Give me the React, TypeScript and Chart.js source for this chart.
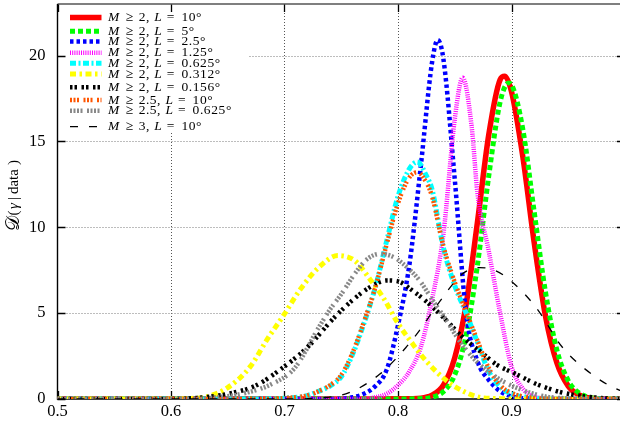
import { useEffect, useRef } from 'react';
import { Chart, registerables } from 'chart.js';

Chart.register(...registerables);

type Pt = [number, number];

// Tick values
const xTickValues = [0.5, 0.6, 0.7, 0.8, 0.9, 1.0];
const yTickValues = [0, 5, 10, 15, 20];

// Legend parameters (M threshold, L value)
const seriesM = ['2', '2', '2', '2', '2', '2', '2', '2.5', '2.5', '3'];
const seriesL = ['10°', '5°', '2.5°', '1.25°', '0.625°', '0.312°', '0.156°', '10°', '0.625°', '10°'];

// Series values: [gamma, density]
const m2L10: Pt[] = [
  [0.5, 0], [0.78, 0], [0.80, 0.01], [0.82, 0.05], [0.83, 0.22], [0.84, 0.8], [0.85, 2.4], [0.86, 5.5],
  [0.87, 10.3], [0.88, 15.4], [0.89, 18.6], [0.894, 18.8], [0.90, 17.9], [0.91, 14.1], [0.92, 9.1],
  [0.93, 4.8], [0.94, 2.1], [0.95, 0.75], [0.96, 0.22], [0.97, 0.05], [0.98, 0], [1.0, 0],
];
const m2L5: Pt[] = [
  [0.5, 0], [0.80, 0], [0.82, 0.02], [0.83, 0.1], [0.84, 0.43], [0.85, 1.4], [0.86, 3.7], [0.87, 7.8],
  [0.88, 13.0], [0.89, 17.3], [0.8975, 18.4], [0.90, 18.3], [0.91, 15.7], [0.92, 10.9], [0.93, 6.2],
  [0.94, 2.85], [0.95, 1.07], [0.96, 0.33], [0.97, 0.08], [0.98, 0.02], [1.0, 0],
];
const m2L2_5: Pt[] = [
  [0.5, 0], [0.74, 0], [0.76, 0.1], [0.77, 0.3], [0.78, 0.75], [0.79, 1.7], [0.80, 4.3], [0.81, 7.8],
  [0.82, 13.5], [0.83, 19.6], [0.835, 20.9], [0.84, 19.8], [0.85, 12.8], [0.86, 5.0], [0.87, 2.2],
  [0.88, 1.1], [0.89, 0.45], [0.90, 0.15], [0.92, 0.02], [0.94, 0], [1.0, 0],
];
const m2L1_25: Pt[] = [
  [0.5, 0], [0.77, 0], [0.78, 0.1], [0.79, 0.3], [0.80, 0.8], [0.81, 1.6], [0.82, 3.0], [0.83, 5.8],
  [0.84, 9.6], [0.85, 16.3], [0.857, 18.7], [0.865, 15.8], [0.87, 12.0], [0.88, 8.6], [0.89, 5.0],
  [0.90, 1.9], [0.91, 0.6], [0.92, 0.15], [0.93, 0.03], [0.95, 0], [1.0, 0],
];
const m2L0_625: Pt[] = [
  [0.5, 0], [0.68, 0], [0.70, 0.05], [0.72, 0.2], [0.73, 0.45], [0.74, 0.75], [0.75, 1.3], [0.76, 2.6],
  [0.77, 4.4], [0.78, 6.5], [0.79, 9.2], [0.80, 11.8], [0.81, 13.4], [0.817, 13.8], [0.825, 13.0],
  [0.83, 12.2], [0.84, 8.8], [0.85, 6.6], [0.86, 5.0], [0.87, 3.3], [0.88, 1.6], [0.89, 0.7],
  [0.90, 0.3], [0.92, 0.05], [0.94, 0], [1.0, 0],
];
const m2L0_312: Pt[] = [
  [0.5, 0], [0.60, 0], [0.62, 0.04], [0.63, 0.1], [0.65, 0.66], [0.67, 1.9], [0.685, 3.5], [0.70, 4.95],
  [0.713, 6.3], [0.73, 7.65], [0.747, 8.35], [0.762, 8.05], [0.775, 7.0], [0.787, 5.9], [0.80, 4.4],
  [0.813, 3.2], [0.825, 2.2], [0.843, 1.05], [0.857, 0.47], [0.872, 0.1], [0.89, 0.02], [0.91, 0], [1.0, 0],
];
const m2L0_156: Pt[] = [
  [0.5, 0], [0.60, 0], [0.62, 0.05], [0.63, 0.1], [0.65, 0.3], [0.674, 0.76], [0.697, 1.75], [0.72, 3.0],
  [0.744, 4.75], [0.759, 5.7], [0.775, 6.5], [0.79, 6.9], [0.80, 6.85], [0.813, 6.3], [0.828, 5.5],
  [0.843, 4.55], [0.857, 3.6], [0.872, 2.8], [0.887, 2.0], [0.904, 1.45], [0.922, 0.87], [0.945, 0.37],
  [0.975, 0.08], [1.0, 0],
];
const m2_5L10: Pt[] = [
  [0.5, 0], [0.68, 0], [0.70, 0.05], [0.72, 0.2], [0.73, 0.45], [0.74, 0.8], [0.75, 1.4], [0.76, 2.7],
  [0.77, 4.5], [0.78, 6.5], [0.79, 9.0], [0.80, 11.4], [0.81, 12.9], [0.817, 13.2], [0.825, 12.6],
  [0.83, 11.8], [0.84, 8.9], [0.85, 6.8], [0.86, 5.1], [0.87, 3.4], [0.88, 1.8], [0.89, 0.8],
  [0.90, 0.35], [0.92, 0.06], [0.94, 0], [1.0, 0],
];
const m2_5L0_625: Pt[] = [
  [0.5, 0], [0.62, 0], [0.64, 0.1], [0.662, 0.3], [0.688, 0.85], [0.709, 1.8], [0.73, 4.15], [0.74, 5.2],
  [0.75, 6.1], [0.762, 7.3], [0.772, 8.1], [0.784, 8.45], [0.795, 8.3], [0.804, 7.9], [0.819, 6.9],
  [0.831, 5.7], [0.843, 4.55], [0.854, 3.4], [0.869, 2.2], [0.887, 1.25], [0.904, 0.66], [0.928, 0.17],
  [0.95, 0.03], [0.97, 0], [1.0, 0],
];
const m3L10: Pt[] = [
  [0.5, 0], [0.70, 0], [0.73, 0.05], [0.757, 0.37], [0.784, 1.45], [0.807, 3.0], [0.819, 4.0],
  [0.837, 5.7], [0.857, 7.3], [0.872, 7.65], [0.885, 7.5], [0.899, 6.9], [0.922, 5.3], [0.945, 3.0],
  [0.975, 1.24], [0.993, 0.57], [1.0, 0.4],
];

const seriesData = [m2L10, m2L5, m2L2_5, m2L1_25, m2L0_625, m2L0_312, m2L0_156, m2_5L10, m2_5L0_625, m3L10];

// Styles (kept apart from data)
const seriesStyles = [
  { color: '#ff0000', width: 5.5, dash: [] as number[] },
  { color: '#00ff00', width: 5, dash: [5, 3] },
  { color: '#0000ff', width: 4.5, dash: [3.5, 3] },
  { color: '#ff00ff', width: 4.5, dash: [1, 1.2] },
  { color: '#00ffff', width: 5, dash: [6, 2.5, 2, 2.5] },
  { color: '#ffff00', width: 5, dash: [6, 3.5, 2.5, 3.5] },
  { color: '#000000', width: 4.5, dash: [2.5, 2, 2.5, 4.5] },
  { color: '#ff5500', width: 4.5, dash: [2, 1.5, 2, 1.5, 2, 4.5] },
  { color: '#888888', width: 4.5, dash: [2, 1.5, 2, 1.5, 2, 1.5, 2, 4.5] },
  { color: '#000000', width: 1.3, dash: [8, 11] },
];
const legendRows = [17.5, 31.3, 41.5, 52.7, 63.3, 74, 87.3, 100, 110.7, 126.7];

const SERIF = '"Liberation Serif", "DejaVu Serif", serif';

type Tok = { t: string; it?: boolean; gap: number; ls?: number; font?: string };

function drawTokens(ctx: CanvasRenderingContext2D, x: number, y: number, toks: Tok[], size: number) {
  let cx = x;
  for (const tk of toks) {
    ctx.font = tk.font ? tk.font : `${tk.it ? 'italic ' : ''}${size}px ${SERIF}`;
    (ctx as any).letterSpacing = `${tk.ls || 0}px`;
    ctx.fillText(tk.t, cx, y);
    cx += ctx.measureText(tk.t).width + tk.gap;
  }
  (ctx as any).letterSpacing = '0px';
}

const decorPlugin = {
  id: 'decor',
  beforeDatasetsDraw(chart: any) {
    const { ctx, chartArea: a, scales } = chart;
    const xs = scales.x;
    const ys = scales.y;
    ctx.save();
    // dotted grid
    ctx.lineWidth = 1;
    ctx.setLineDash([1, 2]);
    ctx.strokeStyle = '#555';
    ctx.beginPath();
    for (const v of xTickValues.slice(1, -1)) {
      const px = Math.round(xs.getPixelForValue(v)) + 0.5;
      ctx.moveTo(px, a.top);
      ctx.lineTo(px, a.bottom);
    }
    ctx.stroke();
    ctx.strokeStyle = '#7a7a7a';
    ctx.beginPath();
    for (const v of yTickValues.slice(1)) {
      const py = Math.round(ys.getPixelForValue(v)) + 0.5;
      ctx.moveTo(a.left, py);
      ctx.lineTo(a.right, py);
    }
    ctx.stroke();
    ctx.setLineDash([]);
    // legend background
    ctx.fillStyle = '#ffffff';
    ctx.fillRect(a.left + 1, a.top + 1, 190, 127);
    // inward ticks
    ctx.strokeStyle = '#000';
    ctx.lineWidth = 1.3;
    ctx.beginPath();
    for (const v of xTickValues) {
      const px = Math.round(xs.getPixelForValue(v)) + 0.5;
      ctx.moveTo(px, a.top);
      ctx.lineTo(px, a.top + 8);
      ctx.moveTo(px, a.bottom);
      ctx.lineTo(px, a.bottom - 8);
    }
    for (const v of yTickValues) {
      const py = Math.round(ys.getPixelForValue(v)) + 0.5;
      ctx.moveTo(a.left, py);
      ctx.lineTo(a.left + 8, py);
      ctx.moveTo(a.right, py);
      ctx.lineTo(a.right - 8, py);
    }
    ctx.stroke();
    // frame
    ctx.strokeStyle = '#555';
    ctx.lineWidth = 1.6;
    ctx.beginPath();
    ctx.moveTo(a.left, a.top);
    ctx.lineTo(a.right, a.top);
    ctx.lineTo(a.right, a.bottom);
    ctx.stroke();
    ctx.strokeStyle = '#000';
    ctx.lineWidth = 1.4;
    ctx.beginPath();
    ctx.moveTo(a.left, a.top);
    ctx.lineTo(a.left, a.bottom);
    ctx.lineTo(a.right, a.bottom);
    ctx.stroke();
    ctx.restore();
  },
  afterDraw(chart: any) {
    const { ctx, chartArea: a } = chart;
    ctx.save();
    // legend
    const sx0 = a.left + 12.5;
    const sx1 = a.left + 44;
    const tx = a.left + 50.5;
    ctx.fillStyle = '#000';
    ctx.textBaseline = 'alphabetic';
    ctx.textAlign = 'left';
    seriesStyles.forEach((s, i) => {
      const y = legendRows[i];
      ctx.strokeStyle = s.color;
      ctx.lineWidth = s.width;
      ctx.lineCap = 'butt';
      ctx.setLineDash(s.dash);
      ctx.beginPath();
      ctx.moveTo(sx0, y);
      ctx.lineTo(sx1, y);
      ctx.stroke();
      ctx.setLineDash([]);
      drawTokens(ctx, tx, y + 3.5, [
        { t: 'M', it: true, gap: 6.5 },
        { t: '≥', gap: 5.5 },
        { t: seriesM[i] + ',', gap: 4.5, ls: 0.5 },
        { t: 'L', it: true, gap: 5 },
        { t: '=', gap: 7 },
        { t: seriesL[i], gap: 0, ls: 0.6 },
      ], 13.5);
    });
    // y axis title
    ctx.translate(14, 231);
    ctx.rotate(-Math.PI / 2);
    ctx.textBaseline = 'middle';
    drawTokens(ctx, 0, 0, [
      { t: '𝒟', gap: 0.5, font: `19px "DejaVu Sans", "DejaVu Serif", serif` },
      { t: '(', gap: 1.5 },
      { t: 'γ', it: true, gap: 3 },
      { t: '|', gap: 3 },
      { t: 'data', gap: 4 },
      { t: ')', gap: 0 },
    ], 15);
    ctx.restore();
  },
};

export default function App() {
  const ref = useRef<HTMLCanvasElement | null>(null);
  useEffect(() => {
    if (!ref.current) return;
    const chart = new Chart(ref.current, {
      type: 'line',
      data: {
        datasets: seriesData.map((pts, i) => ({
          label: `M ≥ ${seriesM[i]}, L = ${seriesL[i]}`,
          data: pts.map(([x, y]) => ({ x, y })),
          borderColor: seriesStyles[i].color,
          backgroundColor: seriesStyles[i].color,
          borderWidth: seriesStyles[i].width,
          borderDash: seriesStyles[i].dash,
          borderCapStyle: 'butt' as const,
          pointRadius: 0,
          fill: false,
          cubicInterpolationMode: 'monotone' as const,
          order: seriesData.length - i,
        })),
      },
      options: {
        animation: false,
        responsive: false,
        devicePixelRatio: 1,
        layout: { padding: { top: 4, right: 5, left: 0, bottom: 0 } },
        plugins: { legend: { display: false }, tooltip: { enabled: false } },
        scales: {
          x: {
            type: 'linear',
            min: 0.5,
            max: 1.0,
            grid: { display: false, drawTicks: false },
            border: { display: false },
            ticks: {
              stepSize: 0.1,
              includeBounds: false,
              padding: 3,
              color: '#000',
              font: { family: SERIF, size: 16.5 },
              callback: (v: any) => (Math.abs(v - 1) < 1e-9 ? '1' : Number(v).toFixed(1)),
            },
            afterFit: (s: any) => { s.height = 25; s.paddingLeft = 0; s.paddingRight = 0; s.paddingTop = 0; s.paddingBottom = 0; },
          },
          y: {
            type: 'linear',
            min: 0,
            max: 23,
            grid: { display: false, drawTicks: false },
            border: { display: false },
            ticks: {
              stepSize: 5,
              includeBounds: false,
              padding: 12,
              color: '#000',
              font: { family: SERIF, size: 16.5 },
            },
            afterFit: (s: any) => { s.width = 57.5; s.paddingTop = 0; s.paddingBottom = 0; s.paddingLeft = 0; s.paddingRight = 0; },
          },
        },
      },
      plugins: [decorPlugin],
    });
    return () => chart.destroy();
  }, []);
  return (
    <div style={{ position: 'fixed', left: 0, top: 0, width: 620, height: 424, overflow: 'hidden', background: '#fff' }}>
      <canvas ref={ref} width={630} height={424} style={{ display: 'block' }} />
    </div>
  );
}
